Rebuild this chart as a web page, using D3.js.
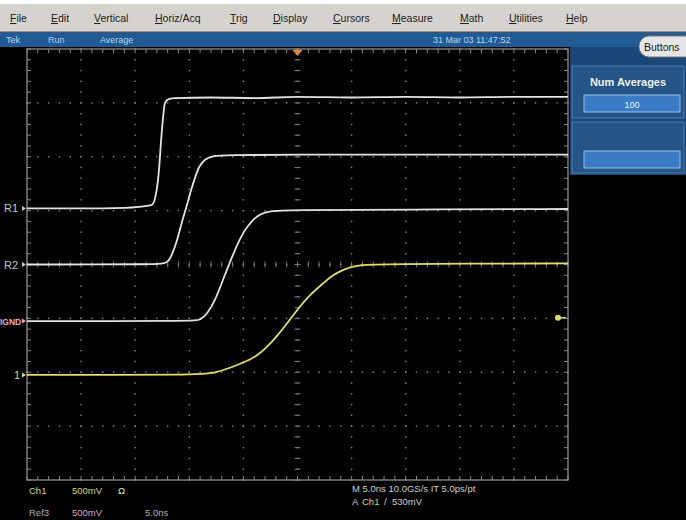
<!DOCTYPE html>
<html>
<head>
<meta charset="utf-8">
<style type="text/css">
  body{
    margin: 0;
    background: black;
  }
  svg text{
    font-family: 'Liberation Sans', Arial, sans-serif;
  }
</style>
</head>
<body>

<script src="https://cdn.jsdelivr.net/npm/d3@7/dist/d3.min.js"></script>

<div id="scope"></div>

<script>

// ---- data (time in ns, volts as displayed, 500mV/div) ----
var menuItems = ["File", "Edit", "Vertical", "Horiz/Acq", "Trig", "Display", "Cursors", "Measure", "Math", "Utilities", "Help"];

var r1Time = [-25, -20, -16, -13.5, -13.1, -12.8, -12.6, -12.4, -12.25, -11.9, -11.3, -8, -4, 0, 5, 10, 15, 20, 25];
var r1Volt = [0.52, 0.52, 0.525, 0.55, 0.645, 0.88, 1.16, 1.39, 1.5, 1.535, 1.545, 1.55, 1.545, 1.555, 1.55, 1.555, 1.55, 1.555, 1.555];

var r2Time = [-25, -12.7, -12.0, -11.6, -11.1, -10.7, -10.2, -9.85, -9.45, -9.1, -8.55, -7.9, -6.7, 0, 10, 25];
var r2Volt = [0, 0, 0.014, 0.088, 0.227, 0.394, 0.552, 0.691, 0.812, 0.914, 0.978, 1.006, 1.016, 1.02, 1.02, 1.02];

var r3Time = [-25, -9.5, -9.0, -8.35, -7.6, -7.0, -6.25, -5.6, -4.95, -4.2, -3.45, -2.55, -1.15, 10, 25];
var r3Volt = [-0.525, -0.525, -0.515, -0.46, -0.33, -0.17, 0.02, 0.18, 0.31, 0.41, 0.47, 0.495, 0.505, 0.51, 0.515];

var ch1Time = [-25, -9, -7.6, -6.25, -4.85, -3.75, -2.8, -1.9, -0.95, 0.05, 1.05, 2.1, 3.0, 3.95, 4.85, 5.95, 7.15, 25];
var ch1Volt = [-1.025, -1.025, -1.005, -0.96, -0.905, -0.85, -0.765, -0.665, -0.545, -0.41, -0.29, -0.2, -0.115, -0.06, -0.025, -0.005, 0.005, 0.01];

var refLabels = ["R1", "R2", "IGND", "1"];
var refLevels = [0.52, 0, -0.525, -1.025];
var triggerLevel = -0.495;

var statusItems = ["Tek", "Run", "Average", "31 Mar 03 11:47:52"];
var readoutTop = ["Ch1", "500mV", "\u03a9"];
var readoutBottom = ["Ref3", "500mV", "5.0ns"];
var timebaseText = "M 5.0ns 10.0GS/s IT 5.0ps/pt";
var triggerText = ["A", "Ch1", "/", "530mV"];

// ---- layout ----
var W = 686, H = 520;
var plotL = 27, plotR = 568, plotT = 49, plotB = 480;

var svg = d3.select("#scope").append("svg")
  .attr("width", W)
  .attr("height", H)
  .style("display", "block");

svg.append("rect").attr("width", W).attr("height", H).attr("fill", "black");

var x = d3.scaleLinear().domain([-25, 25]).range([plotL, plotR]);
var y = d3.scaleLinear().domain([-2, 2]).range([plotB, plotT]);

// menu bar
svg.append("rect").attr("x", 0).attr("y", 0).attr("width", W).attr("height", 32).attr("fill", "#d6d3ce");
svg.append("rect").attr("x", 0).attr("y", 0).attr("width", W).attr("height", 4).attr("fill", "#ffffff");
var menuX = [10, 51, 94, 155, 230, 273, 333, 392, 460, 509, 566];
var menuText = svg.selectAll(".menu").data(menuItems).enter().append("text")
  .attr("class", "menu")
  .attr("x", function(d, i) { return menuX[i]; })
  .attr("y", 22)
  .attr("font-size", 10.5)
  .attr("fill", "#222");
menuText.append("tspan").attr("text-decoration", "underline").text(function(d) { return d.charAt(0); });
menuText.append("tspan").text(function(d) { return d.slice(1); });

// status bar
var statusX = [6, 48, 100, 433];
svg.append("rect").attr("x", 0).attr("y", 32).attr("width", W).attr("height", 15).attr("fill", "#225b93");
svg.append("line").attr("x1", 0).attr("x2", W).attr("y1", 32).attr("y2", 32).attr("stroke", "#555");
svg.selectAll(".status").data(statusItems).enter().append("text")
  .attr("class", "status")
  .attr("x", function(d, i) { return statusX[i]; })
  .attr("y", 43)
  .attr("font-size", 9)
  .attr("fill", "#b8d2f0")
  .text(function(d) { return d; });

// right side panel
svg.append("rect").attr("x", plotR + 2).attr("y", 47).attr("width", W - plotR - 2).attr("height", 128).attr("fill", "#1b4778");
[[66, 52], [122, 51]].forEach(function(s) {
  svg.append("rect").attr("x", 572).attr("y", s[0]).attr("width", 112).attr("height", s[1])
    .attr("fill", "#235588").attr("stroke", "#4f7fb0").attr("stroke-width", 1);
  svg.append("rect").attr("x", 584).attr("y", s[0] + 29).attr("width", 96).attr("height", 17)
    .attr("fill", "#3a7cc6").attr("stroke", "#9cc0e8").attr("stroke-width", 1);
});
svg.append("text").attr("x", 628).attr("y", 86).attr("text-anchor", "middle")
  .attr("font-size", 11).attr("font-weight", "bold").attr("fill", "#f0f0f0").text("Num Averages");
svg.append("text").attr("x", 632).attr("y", 108).attr("text-anchor", "middle")
  .attr("font-size", 9).attr("fill", "#e8f0ff").text("100");

// Buttons pill
svg.append("rect").attr("x", 639).attr("y", 36).attr("width", 56).attr("height", 21).attr("rx", 10)
  .attr("fill", "#e6e6e6").attr("stroke", "#777");
svg.append("text").attr("x", 644).attr("y", 51).attr("font-size", 10.5).attr("fill", "#222").text("Buttons");

// ---- graticule ----
var xDivs = d3.range(-25, 25.01, 5);
var yDivs = d3.range(-2, 2.001, 0.5);
var xMinor = d3.range(-25, 25.01, 1);
var yMinor = d3.range(-2, 2.001, 0.1);

var grid = svg.append("g").attr("class", "grid");

// dotted division lines
xDivs.slice(1, -1).forEach(function(t) {
  grid.selectAll(null).data(yMinor).enter().append("rect")
    .attr("x", x(t) - 0.7).attr("y", function(v) { return y(v) - 0.7; })
    .attr("width", 1.4).attr("height", 1.4).attr("fill", "#8a8a8a");
});
yDivs.slice(1, -1).forEach(function(v) {
  grid.selectAll(null).data(xMinor).enter().append("rect")
    .attr("x", function(t) { return x(t) - 0.7; }).attr("y", y(v) - 0.7)
    .attr("width", 1.4).attr("height", 1.4).attr("fill", "#8a8a8a");
});

// center cross ticks
grid.selectAll(".cx").data(xMinor).enter().append("line")
  .attr("x1", function(t) { return x(t); }).attr("x2", function(t) { return x(t); })
  .attr("y1", y(0) - 3).attr("y2", y(0) + 3).attr("stroke", "#777").attr("stroke-width", 1);
grid.selectAll(".cy").data(yMinor).enter().append("line")
  .attr("x1", x(0) - 3).attr("x2", x(0) + 3)
  .attr("y1", function(v) { return y(v); }).attr("y2", function(v) { return y(v); })
  .attr("stroke", "#777").attr("stroke-width", 1);

// frame with inner ticks
grid.append("rect").attr("x", plotL).attr("y", plotT).attr("width", plotR - plotL).attr("height", plotB - plotT)
  .attr("fill", "none").attr("stroke", "#9a9a9a").attr("stroke-width", 1.2);
[plotT, plotB].forEach(function(yy, k) {
  grid.selectAll(null).data(xMinor).enter().append("line")
    .attr("x1", function(t) { return x(t); }).attr("x2", function(t) { return x(t); })
    .attr("y1", yy).attr("y2", yy + (k ? -4 : 4)).attr("stroke", "#8a8a8a");
});
[plotL, plotR].forEach(function(xx, k) {
  grid.selectAll(null).data(yMinor).enter().append("line")
    .attr("x1", xx).attr("x2", xx + (k ? -4 : 4))
    .attr("y1", function(v) { return y(v); }).attr("y2", function(v) { return y(v); })
    .attr("stroke", "#8a8a8a");
});

// ---- waveforms ----
var traces = [
  { t: r1Time, v: r1Volt, color: "#e4e4e4", curve: d3.curveMonotoneX },
  { t: r2Time, v: r2Volt, color: "#e4e4e4", curve: d3.curveBasis },
  { t: r3Time, v: r3Volt, color: "#e6dfe2", curve: d3.curveBasis },
  { t: ch1Time, v: ch1Volt, color: "#dede6a", curve: d3.curveBasis }
];

svg.selectAll(".trace").data(traces).enter().append("path")
  .attr("class", "trace")
  .attr("d", function(d) {
    return d3.line()
      .x(function(p) { return x(p[0]); })
      .y(function(p) { return y(p[1]); })
      .curve(d.curve)(d3.zip(d.t, d.v));
  })
  .attr("fill", "none")
  .attr("stroke", function(d) { return d.color; })
  .attr("stroke-width", 1.8);

// ---- reference / ground labels ----
var labelColors = ["#c8c8c8", "#c8c8c8", "#e8a8cc", "#dede6a"];
var labelX = [4, 4, 0, 14];
svg.selectAll(".reflabel").data(refLabels).enter().append("text")
  .attr("class", "reflabel")
  .attr("x", function(d, i) { return labelX[i]; })
  .attr("y", function(d, i) { return y(refLevels[i]) + 4; })
  .attr("font-size", function(d, i) { return i == 2 ? 8.5 : 11; })
  .attr("font-weight", function(d, i) { return i == 2 ? "bold" : "normal"; })
  .attr("fill", function(d, i) { return labelColors[i]; })
  .text(function(d) { return d; });
svg.selectAll(".refarrow").data(refLevels).enter().append("path")
  .attr("class", "refarrow")
  .attr("d", function(v) { var yy = y(v); return "M" + (plotL - 5) + "," + (yy - 2.5) + "L" + (plotL - 1) + "," + yy + "L" + (plotL - 5) + "," + (yy + 2.5) + "Z"; })
  .attr("fill", function(v, i) { return labelColors[i]; });

// trigger position (top) and trigger level (right)
svg.append("path")
  .attr("d", "M" + (x(0) - 5) + "," + (plotT + 1) + "L" + (x(0) + 5) + "," + (plotT + 1) + "L" + x(0) + "," + (plotT + 7) + "Z")
  .attr("fill", "#e8872e");
svg.append("circle").attr("cx", plotR - 10).attr("cy", y(triggerLevel)).attr("r", 3).attr("fill", "#dede6a");
svg.append("line").attr("x1", plotR - 10).attr("x2", plotR - 2).attr("y1", y(triggerLevel)).attr("y2", y(triggerLevel))
  .attr("stroke", "#dede6a").attr("stroke-width", 1.5);

// ---- bottom readouts ----
var readX = [29, 72, 118];
svg.selectAll(".rtop").data(readoutTop).enter().append("text")
  .attr("class", "rtop")
  .attr("x", function(d, i) { return readX[i]; }).attr("y", 494)
  .attr("font-size", 9.5)
  .attr("fill", function(d, i) { return i == 2 ? "#e4e4b0" : "#d8d870"; })
  .text(function(d) { return d; });
var readX2 = [29, 72, 145];
var readColors2 = ["#b8a8b0", "#d8a8c8", "#b4b4b4"];
svg.selectAll(".rbot").data(readoutBottom).enter().append("text")
  .attr("class", "rbot")
  .attr("x", function(d, i) { return readX2[i]; }).attr("y", 516)
  .attr("font-size", 9.5)
  .attr("fill", function(d, i) { return readColors2[i]; })
  .text(function(d) { return d; });

svg.append("text").attr("x", 352).attr("y", 492).attr("font-size", 9.5).attr("fill", "#cfcfcf").text(timebaseText);
var trigX = [352, 362, 384, 392];
svg.selectAll(".trig").data(triggerText).enter().append("text")
  .attr("class", "trig")
  .attr("x", function(d, i) { return trigX[i]; }).attr("y", 505)
  .attr("font-size", 9.5)
  .attr("fill", function(d, i) { return i == 1 ? "#d8d870" : "#cfcfcf"; })
  .text(function(d) { return d; });

</script>

</body>
</html>
